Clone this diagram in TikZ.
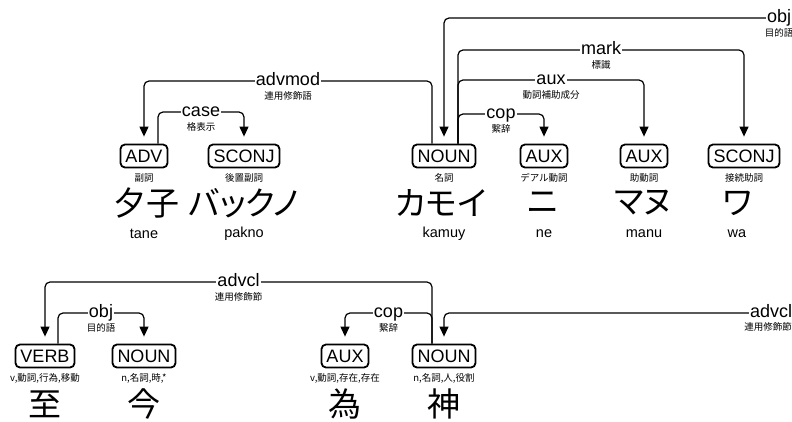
\documentclass[tikz,border=0pt]{standalone}
\usepackage{fontspec}
\setmainfont{Liberation Sans}
\newfontfamily\jpf{Noto Sans CJK JP}
\newfontfamily\jpbig[RawFeature=+palt]{Noto Sans CJK JP}
\usetikzlibrary{arrows.meta,calc}
\tikzset{
 posbox/.style={draw, line width=1.8pt, rounded corners=4.5pt, inner xsep=5pt, inner ysep=5pt,
   text height=13pt, text depth=0pt, font=\fontsize{18}{18}\selectfont},
 poslbl/.style={font=\jpf\fontsize{9.5}{10}\selectfont, inner sep=0pt},
 bigword/.style={font=\jpbig\fontsize{33}{33}\selectfont, inner sep=0pt},
 roman/.style={font=\fontsize{14.5}{15}\selectfont, inner sep=0pt},
 dep/.style={line width=1.2pt, rounded corners=5pt, -{Triangle[length=10pt,width=9pt]}},
 rel/.style={fill=white, inner xsep=1pt, inner ysep=0pt, font=\fontsize{18}{18}\selectfont},
 relsub/.style={font=\jpf\fontsize{9.5}{10}\selectfont, inner sep=0pt},
}
\newcommand{\deparc}[7]{%
 \coordinate (#7-s) at ($(#1.north)+(#2,0)$);
 \coordinate (#7-lv) at (0,#4);
 \coordinate (#7-e) at ($(#3.north)+(0,-7)$);
 \draw[dep] (#7-s) -- (#7-s |- #7-lv) -| (#7-e);
 \coordinate (#7-m) at ($(#7-s |- #7-lv)!0.5!(#7-e |- #7-lv)$);
 \node[rel, anchor=base] (#7-l) at ($(#7-m)+(0,4.7)$) {#5};
 \node[relsub] (#7-sub) at ($(#7-m)+(0,15)$) {#6};
}
\begin{document}
\begin{tikzpicture}[x=1pt, y=-1pt]
\useasboundingbox (0,0) rectangle (792,421);
% ---- top sentence ----
\node[posbox] (t1) at (144,156) {ADV};
\node[posbox] (t2) at (244,156) {SCONJ};
\node[posbox] (t3) at (444,156) {NOUN};
\node[posbox] (t4) at (544,156) {AUX};
\node[posbox] (t5) at (644,156) {AUX};
\node[posbox] (t6) at (744,156) {SCONJ};
\node[poslbl] (t1p) at (144,178) {副詞};
\node[poslbl] (t2p) at (244,178) {後置副詞};
\node[poslbl] (t3p) at (444,178) {名詞};
\node[poslbl] (t4p) at (544,178) {デアル動詞};
\node[poslbl] (t5p) at (644,178) {助動詞};
\node[poslbl] (t6p) at (744,178) {接続助詞};
\node[bigword] (t1w) at (146,203) {夕子};
\node[bigword] (t2w) at (244,203) {バックノ};
\node[bigword] (t3w) at (441,203) {カモイ};
\node[bigword] (t4w) at (543,203) {ニ};
\node[bigword] (t5w) at (643,203) {マヌ};
\node[bigword] (t6w) at (737,203) {ワ};
\node[roman] (t1r) at (144,234) {tane};
\node[roman] (t2r) at (244,234) {pakno};
\node[roman] (t3r) at (444,234) {kamuy};
\node[roman] (t4r) at (544,234) {ne};
\node[roman] (t5r) at (644,234) {manu};
\node[roman] (t6r) at (737,234) {wa};
\deparc{t1}{14}{t2}{112}{case}{格表示}{a1}
\deparc{t3}{-12}{t1}{81}{advmod}{連用修飾語}{a2}
\deparc{t3}{14}{t4}{114}{cop}{繋辞}{a3}
\deparc{t3}{14}{t5}{80}{aux}{動詞補助成分}{a4}
\deparc{t3}{14}{t6}{50}{mark}{標識}{a5}
\coordinate (objhead) at (840,18);
\draw[dep] (objhead) -| ($(t3.north)+(0,-7)$);
\node[rel, anchor=base] (objl) at (779,22.7) {obj};
\node[relsub] (objs) at (779,33) {目的語};
% ---- bottom sentence ----
\node[posbox] (b1) at (45,356) {VERB};
\node[posbox] (b2) at (144,356) {NOUN};
\node[posbox] (b3) at (345,356) {AUX};
\node[posbox] (b4) at (444,356) {NOUN};
\node[poslbl] (b1p) at (45,378) {v,動詞,行為,移動};
\node[poslbl] (b2p) at (144,378) {n,名詞,時,*};
\node[poslbl] (b3p) at (345,378) {v,動詞,存在,存在};
\node[poslbl] (b4p) at (444,378) {n,名詞,人,役割};
\node[bigword] (b1w) at (45,404) {至};
\node[bigword] (b2w) at (144,404) {今};
\node[bigword] (b3w) at (345,404) {為};
\node[bigword] (b4w) at (444,404) {神};
\deparc{b1}{13}{b2}{313}{obj}{目的語}{c1}
\deparc{b4}{-12}{b1}{282}{advcl}{連用修飾節}{c2}
\deparc{b4}{-12}{b3}{313}{cop}{繋辞}{c3}
\coordinate (advclhead) at (840,313);
\draw[dep] (advclhead) -| ($(b4.north)+(0,-7)$);
\node[rel, anchor=base] (advcll) at (771,317.7) {advcl};
\node[relsub] (advcls) at (768,327) {連用修飾節};
\end{tikzpicture}
\end{document}
